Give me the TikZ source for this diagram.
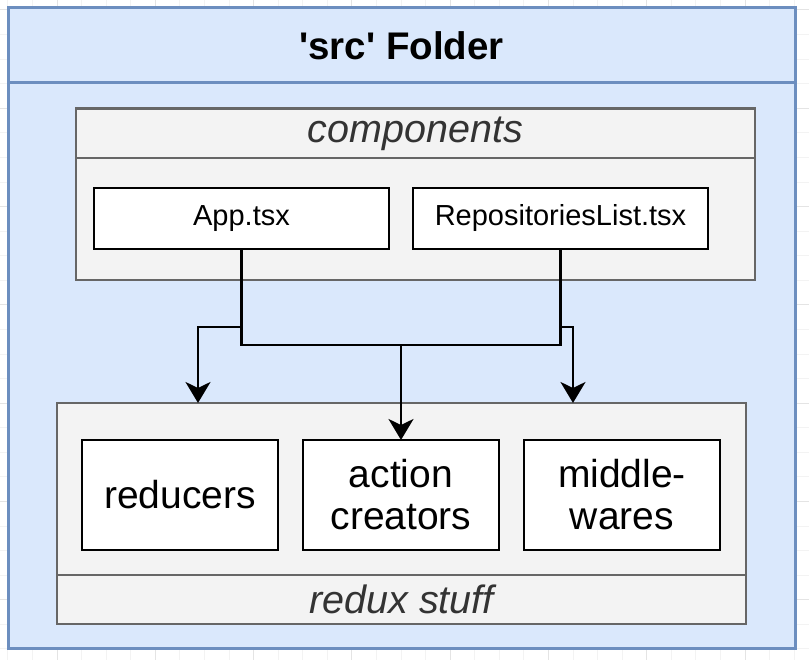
\documentclass[tikz,border=0pt]{standalone}
\usepackage{fontspec}
\setmainfont{Liberation Sans}
\usetikzlibrary{arrows.meta}
\usetikzlibrary{positioning}
\definecolor{paleblue}{HTML}{DAE8FC}
\definecolor{frameblue}{HTML}{6C8EBF}
\definecolor{groupfill}{HTML}{F3F3F3}
\definecolor{groupgray}{HTML}{666666}
\definecolor{labelgray}{HTML}{333333}
\definecolor{gridmajor}{HTML}{E4E4E4}
\definecolor{gridminor}{HTML}{F3F3F3}

\begin{document}
\begin{tikzpicture}[x=1pt,y=-1pt,
    box/.style={draw,rectangle,inner sep=0pt,outer sep=0pt},
    folder/.style={box,draw=frameblue,fill=paleblue,line width=3pt},
    group/.style={box,draw=groupgray,fill=groupfill,line width=2.5pt,text=labelgray,font=\itshape\fontsize{39.5}{44}\selectfont},
    file node/.style={box,fill=white,line width=2.5pt,minimum width=295pt,minimum height=61pt,font=\fontsize{29}{34}\selectfont},
    part node/.style={box,fill=white,line width=2.5pt,minimum width=196pt,minimum height=110pt,align=center,font=\fontsize{39}{42}\selectfont},
    link/.style={line width=2.5pt,-{Stealth[length=21pt 0,width=25pt 0,inset=6pt 0]}}]

    \useasboundingbox (0,0) rectangle (809,660);
    \fill[white] (0,0) rectangle (809,660);
    % canvas grid
    \foreach \k in {-2,...,31} \draw[gridminor,line width=1pt] ({57+24.575*\k},0) -- ++(0,660);
    \foreach \k in {0,...,26} \draw[gridminor,line width=1pt] (0,{10+24.575*\k}) -- ++(809,0);
    \foreach \k in {-1,...,8} \draw[gridmajor,line width=1pt] ({57+98.3*\k},0) -- ++(0,660);
    \foreach \k in {0,...,6} \draw[gridmajor,line width=1pt] (0,{10+98.3*\k}) -- ++(809,0);

    \node[folder,minimum width=787pt,minimum height=640pt] (src) at (401.5,328) {};
    \node[folder,minimum width=787pt,minimum height=75pt,font=\bfseries\fontsize{38.5}{44}\selectfont] (srchead) at (401.5,45.5) {\textquotesingle src\textquotesingle{} Folder};

    \node[group,minimum width=679pt,minimum height=172pt] (comp) at (415.5,194) {};
    \node[group,minimum width=679pt,minimum height=49pt] (comphead) at (415.5,133.5) {components};
    \node[file node] (app) at (241.5,218.5) {App.tsx};
    \node[file node,right=24pt of app] (repos) {RepositoriesList.tsx};

    \node[group,minimum width=689pt,minimum height=221pt] (redux) at (401.5,513.5) {};
    \node[group,minimum width=689pt,minimum height=49pt] (reduxfoot) at (401.5,599.5) {redux stuff};
    \node[part node] (reducers) at (180,495) {reducers};
    \node[part node,right=25pt of reducers] (creators) {action\\creators};
    \node[part node,right=25pt of creators] (mw) {middle-\\wares};

    \coordinate (join) at (401,345);
    \coordinate (tap1) at (198,403);
    \coordinate (tap3) at (573,403);
    \draw[line width=2.5pt] (app.south) |- (join) -| (repos.south);
    \draw[link] (join) -- (creators.north);
    \draw[link] (app.south |- 0,327) -| (tap1);
    \draw[link] (repos.south |- 0,327) -| (tap3);
\end{tikzpicture}
\end{document}
